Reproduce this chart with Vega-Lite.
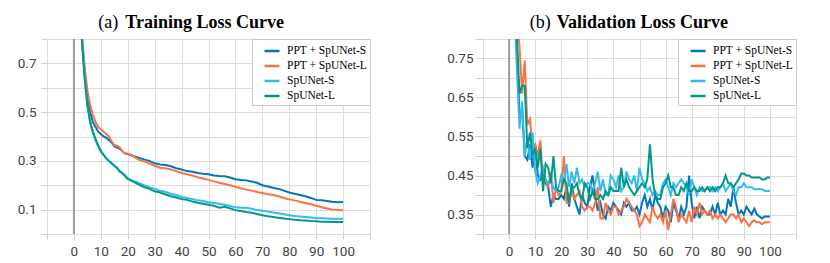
{
  "$schema": "https://vega.github.io/schema/vega-lite/v6.json",
  "padding": {"left": 17, "top": 14, "right": 0, "bottom": 0},
  "background": "white",
  "spacing": 75,
  "config": {
    "view": {"stroke": null},
    "axis": {"gridColor": "#dcdcdc", "gridWidth": 1, "tickColor": "#cfcfcf", "domain": false, "labelFont": "Roboto", "labelFontSize": 13.5, "labelColor": "#444", "title": null},
    "legend": {"orient": "top-right", "offset": 0, "title": null, "symbolType": "stroke", "symbolSize": 225, "symbolStrokeWidth": 2.5, "labelFont": "Liberation Serif", "labelFontSize": 11.5, "labelColor": "#000", "strokeColor": "#c8c8c8", "fillColor": "white", "padding": 3, "rowPadding": 0, "labelOffset": 6, "symbolOffset": 8}
  },
  "datasets": {
    "train": [
      {"e":1,"PPT + SpUNet-S":1.4,"PPT + SpUNet-L":1.4,"SpUNet-S":1.4,"SpUNet-L":1.4},
      {"e":2,"PPT + SpUNet-S":1.0,"PPT + SpUNet-L":1.0,"SpUNet-S":1.0,"SpUNet-L":1.0},
      {"e":3,"PPT + SpUNet-S":0.8,"PPT + SpUNet-L":0.82,"SpUNet-S":0.79,"SpUNet-L":0.79},
      {"e":4,"PPT + SpUNet-S":0.66,"PPT + SpUNet-L":0.68,"SpUNet-S":0.64,"SpUNet-L":0.64},
      {"e":5,"PPT + SpUNet-S":0.56,"PPT + SpUNet-L":0.59,"SpUNet-S":0.53,"SpUNet-L":0.53},
      {"e":6,"PPT + SpUNet-S":0.5,"PPT + SpUNet-L":0.53,"SpUNet-S":0.46,"SpUNet-L":0.46},
      {"e":7,"PPT + SpUNet-S":0.46,"PPT + SpUNet-L":0.49,"SpUNet-S":0.42,"SpUNet-L":0.42},
      {"e":8,"PPT + SpUNet-S":0.44,"PPT + SpUNet-L":0.46,"SpUNet-S":0.385,"SpUNet-L":0.39},
      {"e":9,"PPT + SpUNet-S":0.42,"PPT + SpUNet-L":0.44,"SpUNet-S":0.36,"SpUNet-L":0.365},
      {"e":10,"PPT + SpUNet-S":0.41,"PPT + SpUNet-L":0.43,"SpUNet-S":0.34,"SpUNet-L":0.34},
      {"e":11,"PPT + SpUNet-S":0.4,"PPT + SpUNet-L":0.42,"SpUNet-S":0.325,"SpUNet-L":0.325},
      {"e":12,"PPT + SpUNet-S":0.395,"PPT + SpUNet-L":0.41,"SpUNet-S":0.31,"SpUNet-L":0.31},
      {"e":13,"PPT + SpUNet-S":0.385,"PPT + SpUNet-L":0.4,"SpUNet-S":0.3,"SpUNet-L":0.3},
      {"e":14,"PPT + SpUNet-S":0.375,"PPT + SpUNet-L":0.38,"SpUNet-S":0.29,"SpUNet-L":0.29},
      {"e":15,"PPT + SpUNet-S":0.36,"PPT + SpUNet-L":0.365,"SpUNet-S":0.28,"SpUNet-L":0.28},
      {"e":16,"PPT + SpUNet-S":0.355,"PPT + SpUNet-L":0.362,"SpUNet-S":0.27,"SpUNet-L":0.272},
      {"e":17,"PPT + SpUNet-S":0.35,"PPT + SpUNet-L":0.355,"SpUNet-S":0.255,"SpUNet-L":0.258},
      {"e":18,"PPT + SpUNet-S":0.34,"PPT + SpUNet-L":0.34,"SpUNet-S":0.25,"SpUNet-L":0.25},
      {"e":19,"PPT + SpUNet-S":0.33,"PPT + SpUNet-L":0.33,"SpUNet-S":0.24,"SpUNet-L":0.238},
      {"e":20,"PPT + SpUNet-S":0.328,"PPT + SpUNet-L":0.33,"SpUNet-S":0.228,"SpUNet-L":0.226},
      {"e":22,"PPT + SpUNet-S":0.32,"PPT + SpUNet-L":0.32,"SpUNet-S":0.218,"SpUNet-L":0.215},
      {"e":24,"PPT + SpUNet-S":0.313,"PPT + SpUNet-L":0.305,"SpUNet-S":0.21,"SpUNet-L":0.204},
      {"e":26,"PPT + SpUNet-S":0.306,"PPT + SpUNet-L":0.298,"SpUNet-S":0.2,"SpUNet-L":0.193},
      {"e":28,"PPT + SpUNet-S":0.3,"PPT + SpUNet-L":0.29,"SpUNet-S":0.192,"SpUNet-L":0.185},
      {"e":30,"PPT + SpUNet-S":0.29,"PPT + SpUNet-L":0.28,"SpUNet-S":0.185,"SpUNet-L":0.175},
      {"e":32,"PPT + SpUNet-S":0.285,"PPT + SpUNet-L":0.272,"SpUNet-S":0.178,"SpUNet-L":0.17},
      {"e":34,"PPT + SpUNet-S":0.283,"PPT + SpUNet-L":0.27,"SpUNet-S":0.172,"SpUNet-L":0.162},
      {"e":36,"PPT + SpUNet-S":0.278,"PPT + SpUNet-L":0.265,"SpUNet-S":0.165,"SpUNet-L":0.155},
      {"e":38,"PPT + SpUNet-S":0.27,"PPT + SpUNet-L":0.258,"SpUNet-S":0.16,"SpUNet-L":0.15},
      {"e":40,"PPT + SpUNet-S":0.265,"PPT + SpUNet-L":0.25,"SpUNet-S":0.152,"SpUNet-L":0.143},
      {"e":42,"PPT + SpUNet-S":0.258,"PPT + SpUNet-L":0.245,"SpUNet-S":0.148,"SpUNet-L":0.14},
      {"e":44,"PPT + SpUNet-S":0.255,"PPT + SpUNet-L":0.24,"SpUNet-S":0.143,"SpUNet-L":0.133},
      {"e":46,"PPT + SpUNet-S":0.25,"PPT + SpUNet-L":0.233,"SpUNet-S":0.138,"SpUNet-L":0.128},
      {"e":48,"PPT + SpUNet-S":0.247,"PPT + SpUNet-L":0.228,"SpUNet-S":0.135,"SpUNet-L":0.124},
      {"e":50,"PPT + SpUNet-S":0.245,"PPT + SpUNet-L":0.222,"SpUNet-S":0.13,"SpUNet-L":0.12},
      {"e":52,"PPT + SpUNet-S":0.24,"PPT + SpUNet-L":0.216,"SpUNet-S":0.127,"SpUNet-L":0.116},
      {"e":54,"PPT + SpUNet-S":0.238,"PPT + SpUNet-L":0.21,"SpUNet-S":0.124,"SpUNet-L":0.108},
      {"e":56,"PPT + SpUNet-S":0.237,"PPT + SpUNet-L":0.205,"SpUNet-S":0.12,"SpUNet-L":0.112},
      {"e":58,"PPT + SpUNet-S":0.232,"PPT + SpUNet-L":0.2,"SpUNet-S":0.115,"SpUNet-L":0.105},
      {"e":60,"PPT + SpUNet-S":0.225,"PPT + SpUNet-L":0.194,"SpUNet-S":0.11,"SpUNet-L":0.098},
      {"e":62,"PPT + SpUNet-S":0.222,"PPT + SpUNet-L":0.188,"SpUNet-S":0.108,"SpUNet-L":0.094},
      {"e":64,"PPT + SpUNet-S":0.22,"PPT + SpUNet-L":0.182,"SpUNet-S":0.108,"SpUNet-L":0.09},
      {"e":66,"PPT + SpUNet-S":0.215,"PPT + SpUNet-L":0.178,"SpUNet-S":0.104,"SpUNet-L":0.087},
      {"e":68,"PPT + SpUNet-S":0.21,"PPT + SpUNet-L":0.172,"SpUNet-S":0.098,"SpUNet-L":0.082},
      {"e":70,"PPT + SpUNet-S":0.2,"PPT + SpUNet-L":0.168,"SpUNet-S":0.095,"SpUNet-L":0.077},
      {"e":72,"PPT + SpUNet-S":0.195,"PPT + SpUNet-L":0.163,"SpUNet-S":0.092,"SpUNet-L":0.073},
      {"e":74,"PPT + SpUNet-S":0.19,"PPT + SpUNet-L":0.16,"SpUNet-S":0.088,"SpUNet-L":0.07},
      {"e":76,"PPT + SpUNet-S":0.185,"PPT + SpUNet-L":0.155,"SpUNet-S":0.085,"SpUNet-L":0.067},
      {"e":78,"PPT + SpUNet-S":0.178,"PPT + SpUNet-L":0.148,"SpUNet-S":0.081,"SpUNet-L":0.064},
      {"e":80,"PPT + SpUNet-S":0.17,"PPT + SpUNet-L":0.142,"SpUNet-S":0.077,"SpUNet-L":0.061},
      {"e":82,"PPT + SpUNet-S":0.165,"PPT + SpUNet-L":0.138,"SpUNet-S":0.074,"SpUNet-L":0.058},
      {"e":84,"PPT + SpUNet-S":0.16,"PPT + SpUNet-L":0.132,"SpUNet-S":0.072,"SpUNet-L":0.056},
      {"e":86,"PPT + SpUNet-S":0.155,"PPT + SpUNet-L":0.127,"SpUNet-S":0.07,"SpUNet-L":0.055},
      {"e":88,"PPT + SpUNet-S":0.148,"PPT + SpUNet-L":0.122,"SpUNet-S":0.068,"SpUNet-L":0.053},
      {"e":90,"PPT + SpUNet-S":0.14,"PPT + SpUNet-L":0.116,"SpUNet-S":0.066,"SpUNet-L":0.052},
      {"e":92,"PPT + SpUNet-S":0.138,"PPT + SpUNet-L":0.11,"SpUNet-S":0.065,"SpUNet-L":0.05},
      {"e":94,"PPT + SpUNet-S":0.135,"PPT + SpUNet-L":0.105,"SpUNet-S":0.064,"SpUNet-L":0.05},
      {"e":96,"PPT + SpUNet-S":0.132,"PPT + SpUNet-L":0.1,"SpUNet-S":0.063,"SpUNet-L":0.049},
      {"e":98,"PPT + SpUNet-S":0.13,"PPT + SpUNet-L":0.098,"SpUNet-S":0.063,"SpUNet-L":0.049},
      {"e":100,"PPT + SpUNet-S":0.131,"PPT + SpUNet-L":0.097,"SpUNet-S":0.063,"SpUNet-L":0.049}
    ],
    "val": [
      {"e":1,"PPT + SpUNet-S":1.0,"PPT + SpUNet-L":1.0,"SpUNet-S":1.0,"SpUNet-L":1.0},
      {"e":2,"PPT + SpUNet-S":0.9,"PPT + SpUNet-L":0.95,"SpUNet-S":0.9,"SpUNet-L":0.92},
      {"e":3,"PPT + SpUNet-S":0.78,"PPT + SpUNet-L":0.85,"SpUNet-S":0.72,"SpUNet-L":0.8},
      {"e":4,"PPT + SpUNet-S":0.6,"PPT + SpUNet-L":0.78,"SpUNet-S":0.57,"SpUNet-L":0.66},
      {"e":5,"PPT + SpUNet-S":0.62,"PPT + SpUNet-L":0.66,"SpUNet-S":0.64,"SpUNet-L":0.68},
      {"e":6,"PPT + SpUNet-S":0.5,"PPT + SpUNet-L":0.745,"SpUNet-S":0.5,"SpUNet-L":0.68},
      {"e":7,"PPT + SpUNet-S":0.49,"PPT + SpUNet-L":0.58,"SpUNet-S":0.55,"SpUNet-L":0.52},
      {"e":8,"PPT + SpUNet-S":0.53,"PPT + SpUNet-L":0.595,"SpUNet-S":0.49,"SpUNet-L":0.56},
      {"e":9,"PPT + SpUNet-S":0.47,"PPT + SpUNet-L":0.52,"SpUNet-S":0.56,"SpUNet-L":0.5},
      {"e":10,"PPT + SpUNet-S":0.53,"PPT + SpUNet-L":0.53,"SpUNet-S":0.46,"SpUNet-L":0.52},
      {"e":11,"PPT + SpUNet-S":0.45,"PPT + SpUNet-L":0.5,"SpUNet-S":0.43,"SpUNet-L":0.47},
      {"e":12,"PPT + SpUNet-S":0.44,"PPT + SpUNet-L":0.54,"SpUNet-S":0.45,"SpUNet-L":0.52},
      {"e":13,"PPT + SpUNet-S":0.46,"PPT + SpUNet-L":0.43,"SpUNet-S":0.47,"SpUNet-L":0.41},
      {"e":14,"PPT + SpUNet-S":0.43,"PPT + SpUNet-L":0.44,"SpUNet-S":0.44,"SpUNet-L":0.48},
      {"e":15,"PPT + SpUNet-S":0.42,"PPT + SpUNet-L":0.42,"SpUNet-S":0.43,"SpUNet-L":0.47},
      {"e":16,"PPT + SpUNet-S":0.37,"PPT + SpUNet-L":0.46,"SpUNet-S":0.44,"SpUNet-L":0.43},
      {"e":17,"PPT + SpUNet-S":0.4,"PPT + SpUNet-L":0.38,"SpUNet-S":0.42,"SpUNet-L":0.5},
      {"e":18,"PPT + SpUNet-S":0.39,"PPT + SpUNet-L":0.42,"SpUNet-S":0.41,"SpUNet-L":0.42},
      {"e":19,"PPT + SpUNet-S":0.39,"PPT + SpUNet-L":0.4,"SpUNet-S":0.42,"SpUNet-L":0.41},
      {"e":20,"PPT + SpUNet-S":0.4,"PPT + SpUNet-L":0.41,"SpUNet-S":0.45,"SpUNet-L":0.41},
      {"e":21,"PPT + SpUNet-S":0.39,"PPT + SpUNet-L":0.5,"SpUNet-S":0.43,"SpUNet-L":0.44},
      {"e":22,"PPT + SpUNet-S":0.42,"PPT + SpUNet-L":0.38,"SpUNet-S":0.48,"SpUNet-L":0.43},
      {"e":23,"PPT + SpUNet-S":0.37,"PPT + SpUNet-L":0.38,"SpUNet-S":0.42,"SpUNet-L":0.38},
      {"e":24,"PPT + SpUNet-S":0.43,"PPT + SpUNet-L":0.41,"SpUNet-S":0.46,"SpUNet-L":0.42},
      {"e":25,"PPT + SpUNet-S":0.39,"PPT + SpUNet-L":0.39,"SpUNet-S":0.43,"SpUNet-L":0.42},
      {"e":26,"PPT + SpUNet-S":0.37,"PPT + SpUNet-L":0.4,"SpUNet-S":0.47,"SpUNet-L":0.43},
      {"e":27,"PPT + SpUNet-S":0.35,"PPT + SpUNet-L":0.41,"SpUNet-S":0.43,"SpUNet-L":0.4},
      {"e":28,"PPT + SpUNet-S":0.4,"PPT + SpUNet-L":0.37,"SpUNet-S":0.44,"SpUNet-L":0.39},
      {"e":29,"PPT + SpUNet-S":0.38,"PPT + SpUNet-L":0.36,"SpUNet-S":0.42,"SpUNet-L":0.43},
      {"e":30,"PPT + SpUNet-S":0.37,"PPT + SpUNet-L":0.37,"SpUNet-S":0.43,"SpUNet-L":0.42},
      {"e":31,"PPT + SpUNet-S":0.42,"PPT + SpUNet-L":0.37,"SpUNet-S":0.43,"SpUNet-L":0.39},
      {"e":32,"PPT + SpUNet-S":0.45,"PPT + SpUNet-L":0.36,"SpUNet-S":0.41,"SpUNet-L":0.41},
      {"e":33,"PPT + SpUNet-S":0.4,"PPT + SpUNet-L":0.38,"SpUNet-S":0.43,"SpUNet-L":0.39},
      {"e":34,"PPT + SpUNet-S":0.36,"PPT + SpUNet-L":0.42,"SpUNet-S":0.46,"SpUNet-L":0.39},
      {"e":35,"PPT + SpUNet-S":0.38,"PPT + SpUNet-L":0.34,"SpUNet-S":0.41,"SpUNet-L":0.4},
      {"e":36,"PPT + SpUNet-S":0.35,"PPT + SpUNet-L":0.34,"SpUNet-S":0.44,"SpUNet-L":0.39},
      {"e":37,"PPT + SpUNet-S":0.34,"PPT + SpUNet-L":0.38,"SpUNet-S":0.4,"SpUNet-L":0.41},
      {"e":38,"PPT + SpUNet-S":0.37,"PPT + SpUNet-L":0.36,"SpUNet-S":0.4,"SpUNet-L":0.4},
      {"e":39,"PPT + SpUNet-S":0.36,"PPT + SpUNet-L":0.35,"SpUNet-S":0.45,"SpUNet-L":0.42},
      {"e":40,"PPT + SpUNet-S":0.38,"PPT + SpUNet-L":0.37,"SpUNet-S":0.44,"SpUNet-L":0.41},
      {"e":41,"PPT + SpUNet-S":0.37,"PPT + SpUNet-L":0.37,"SpUNet-S":0.42,"SpUNet-L":0.41},
      {"e":42,"PPT + SpUNet-S":0.36,"PPT + SpUNet-L":0.35,"SpUNet-S":0.45,"SpUNet-L":0.41},
      {"e":43,"PPT + SpUNet-S":0.35,"PPT + SpUNet-L":0.36,"SpUNet-S":0.41,"SpUNet-L":0.47},
      {"e":44,"PPT + SpUNet-S":0.38,"PPT + SpUNet-L":0.37,"SpUNet-S":0.42,"SpUNet-L":0.42},
      {"e":45,"PPT + SpUNet-S":0.37,"PPT + SpUNet-L":0.39,"SpUNet-S":0.46,"SpUNet-L":0.44},
      {"e":46,"PPT + SpUNet-S":0.38,"PPT + SpUNet-L":0.38,"SpUNet-S":0.44,"SpUNet-L":0.42},
      {"e":47,"PPT + SpUNet-S":0.36,"PPT + SpUNet-L":0.37,"SpUNet-S":0.43,"SpUNet-L":0.41},
      {"e":48,"PPT + SpUNet-S":0.36,"PPT + SpUNet-L":0.36,"SpUNet-S":0.45,"SpUNet-L":0.4},
      {"e":49,"PPT + SpUNet-S":0.37,"PPT + SpUNet-L":0.35,"SpUNet-S":0.41,"SpUNet-L":0.41},
      {"e":50,"PPT + SpUNet-S":0.35,"PPT + SpUNet-L":0.32,"SpUNet-S":0.47,"SpUNet-L":0.42},
      {"e":51,"PPT + SpUNet-S":0.38,"PPT + SpUNet-L":0.33,"SpUNet-S":0.44,"SpUNet-L":0.43},
      {"e":52,"PPT + SpUNet-S":0.4,"PPT + SpUNet-L":0.35,"SpUNet-S":0.43,"SpUNet-L":0.42},
      {"e":53,"PPT + SpUNet-S":0.37,"PPT + SpUNet-L":0.34,"SpUNet-S":0.41,"SpUNet-L":0.44},
      {"e":54,"PPT + SpUNet-S":0.39,"PPT + SpUNet-L":0.33,"SpUNet-S":0.42,"SpUNet-L":0.53},
      {"e":55,"PPT + SpUNet-S":0.36,"PPT + SpUNet-L":0.37,"SpUNet-S":0.4,"SpUNet-L":0.44},
      {"e":56,"PPT + SpUNet-S":0.4,"PPT + SpUNet-L":0.35,"SpUNet-S":0.41,"SpUNet-L":0.4},
      {"e":57,"PPT + SpUNet-S":0.38,"PPT + SpUNet-L":0.34,"SpUNet-S":0.4,"SpUNet-L":0.39},
      {"e":58,"PPT + SpUNet-S":0.37,"PPT + SpUNet-L":0.35,"SpUNet-S":0.4,"SpUNet-L":0.39},
      {"e":59,"PPT + SpUNet-S":0.34,"PPT + SpUNet-L":0.33,"SpUNet-S":0.43,"SpUNet-L":0.42},
      {"e":60,"PPT + SpUNet-S":0.37,"PPT + SpUNet-L":0.36,"SpUNet-S":0.44,"SpUNet-L":0.43},
      {"e":61,"PPT + SpUNet-S":0.36,"PPT + SpUNet-L":0.31,"SpUNet-S":0.42,"SpUNet-L":0.45},
      {"e":62,"PPT + SpUNet-S":0.33,"PPT + SpUNet-L":0.35,"SpUNet-S":0.4,"SpUNet-L":0.42},
      {"e":63,"PPT + SpUNet-S":0.38,"PPT + SpUNet-L":0.39,"SpUNet-S":0.43,"SpUNet-L":0.42},
      {"e":64,"PPT + SpUNet-S":0.36,"PPT + SpUNet-L":0.37,"SpUNet-S":0.42,"SpUNet-L":0.4},
      {"e":65,"PPT + SpUNet-S":0.34,"PPT + SpUNet-L":0.33,"SpUNet-S":0.43,"SpUNet-L":0.4},
      {"e":66,"PPT + SpUNet-S":0.37,"PPT + SpUNet-L":0.35,"SpUNet-S":0.44,"SpUNet-L":0.42},
      {"e":67,"PPT + SpUNet-S":0.35,"PPT + SpUNet-L":0.34,"SpUNet-S":0.43,"SpUNet-L":0.41},
      {"e":68,"PPT + SpUNet-S":0.37,"PPT + SpUNet-L":0.33,"SpUNet-S":0.42,"SpUNet-L":0.43},
      {"e":69,"PPT + SpUNet-S":0.45,"PPT + SpUNet-L":0.36,"SpUNet-S":0.4,"SpUNet-L":0.41},
      {"e":70,"PPT + SpUNet-S":0.38,"PPT + SpUNet-L":0.33,"SpUNet-S":0.44,"SpUNet-L":0.41},
      {"e":71,"PPT + SpUNet-S":0.34,"PPT + SpUNet-L":0.37,"SpUNet-S":0.42,"SpUNet-L":0.42},
      {"e":72,"PPT + SpUNet-S":0.37,"PPT + SpUNet-L":0.35,"SpUNet-S":0.4,"SpUNet-L":0.41},
      {"e":73,"PPT + SpUNet-S":0.34,"PPT + SpUNet-L":0.38,"SpUNet-S":0.42,"SpUNet-L":0.41},
      {"e":74,"PPT + SpUNet-S":0.37,"PPT + SpUNet-L":0.35,"SpUNet-S":0.41,"SpUNet-L":0.42},
      {"e":75,"PPT + SpUNet-S":0.36,"PPT + SpUNet-L":0.36,"SpUNet-S":0.41,"SpUNet-L":0.41},
      {"e":76,"PPT + SpUNet-S":0.35,"PPT + SpUNet-L":0.35,"SpUNet-S":0.42,"SpUNet-L":0.42},
      {"e":77,"PPT + SpUNet-S":0.35,"PPT + SpUNet-L":0.36,"SpUNet-S":0.42,"SpUNet-L":0.41},
      {"e":78,"PPT + SpUNet-S":0.37,"PPT + SpUNet-L":0.34,"SpUNet-S":0.41,"SpUNet-L":0.42},
      {"e":79,"PPT + SpUNet-S":0.35,"PPT + SpUNet-L":0.35,"SpUNet-S":0.42,"SpUNet-L":0.41},
      {"e":80,"PPT + SpUNet-S":0.38,"PPT + SpUNet-L":0.34,"SpUNet-S":0.41,"SpUNet-L":0.42},
      {"e":81,"PPT + SpUNet-S":0.35,"PPT + SpUNet-L":0.35,"SpUNet-S":0.42,"SpUNet-L":0.42},
      {"e":82,"PPT + SpUNet-S":0.36,"PPT + SpUNet-L":0.34,"SpUNet-S":0.43,"SpUNet-L":0.43},
      {"e":83,"PPT + SpUNet-S":0.35,"PPT + SpUNet-L":0.33,"SpUNet-S":0.41,"SpUNet-L":0.45},
      {"e":84,"PPT + SpUNet-S":0.39,"PPT + SpUNet-L":0.34,"SpUNet-S":0.42,"SpUNet-L":0.43},
      {"e":85,"PPT + SpUNet-S":0.37,"PPT + SpUNet-L":0.35,"SpUNet-S":0.43,"SpUNet-L":0.43},
      {"e":86,"PPT + SpUNet-S":0.42,"PPT + SpUNet-L":0.35,"SpUNet-S":0.41,"SpUNet-L":0.42},
      {"e":87,"PPT + SpUNet-S":0.38,"PPT + SpUNet-L":0.34,"SpUNet-S":0.4,"SpUNet-L":0.43},
      {"e":88,"PPT + SpUNet-S":0.35,"PPT + SpUNet-L":0.35,"SpUNet-S":0.42,"SpUNet-L":0.44},
      {"e":89,"PPT + SpUNet-S":0.36,"PPT + SpUNet-L":0.33,"SpUNet-S":0.42,"SpUNet-L":0.455},
      {"e":90,"PPT + SpUNet-S":0.35,"PPT + SpUNet-L":0.34,"SpUNet-S":0.43,"SpUNet-L":0.455},
      {"e":91,"PPT + SpUNet-S":0.37,"PPT + SpUNet-L":0.33,"SpUNet-S":0.42,"SpUNet-L":0.45},
      {"e":92,"PPT + SpUNet-S":0.36,"PPT + SpUNet-L":0.32,"SpUNet-S":0.42,"SpUNet-L":0.45},
      {"e":93,"PPT + SpUNet-S":0.35,"PPT + SpUNet-L":0.33,"SpUNet-S":0.42,"SpUNet-L":0.445},
      {"e":94,"PPT + SpUNet-S":0.365,"PPT + SpUNet-L":0.335,"SpUNet-S":0.415,"SpUNet-L":0.445},
      {"e":95,"PPT + SpUNet-S":0.35,"PPT + SpUNet-L":0.33,"SpUNet-S":0.415,"SpUNet-L":0.445},
      {"e":96,"PPT + SpUNet-S":0.345,"PPT + SpUNet-L":0.33,"SpUNet-S":0.415,"SpUNet-L":0.445},
      {"e":97,"PPT + SpUNet-S":0.34,"PPT + SpUNet-L":0.325,"SpUNet-S":0.415,"SpUNet-L":0.44},
      {"e":98,"PPT + SpUNet-S":0.345,"PPT + SpUNet-L":0.33,"SpUNet-S":0.41,"SpUNet-L":0.44},
      {"e":99,"PPT + SpUNet-S":0.345,"PPT + SpUNet-L":0.33,"SpUNet-S":0.41,"SpUNet-L":0.445},
      {"e":100,"PPT + SpUNet-S":0.345,"PPT + SpUNet-L":0.33,"SpUNet-S":0.41,"SpUNet-L":0.445}
    ]
  },
  "hconcat": [
    {
      "width": 323,
      "height": 195,
      "title": {"text": "(a)", "subtitle": "\u200b\u00a0\u00a0\u00a0\u00a0\u00a0\u00a0Training Loss Curve", "font": "Liberation Serif", "fontSize": 18, "fontWeight": "normal", "color": "#000", "subtitleFont": "Liberation Serif", "subtitleFontSize": 18, "subtitleFontWeight": "bold", "subtitleColor": "#000", "subtitlePadding": -18, "anchor": "start", "frame": "bounds", "align": "left", "dx": 81, "offset": 6},
      "layer": [
        {
          "data": {"values": [{"x0": 0}]},
          "mark": {"type": "rule", "color": "#9e9e9e", "strokeWidth": 2},
          "encoding": {"x": {"field": "x0", "type": "quantitative"}}
        },
        {
          "data": {"name": "train"},
          "transform": [{"fold": ["PPT + SpUNet-S", "PPT + SpUNet-L", "SpUNet-S", "SpUNet-L"], "as": ["series", "loss"]}],
          "mark": {"type": "line", "clip": true, "strokeWidth": 2},
          "encoding": {
            "x": {"field": "e", "type": "quantitative"},
            "y": {"field": "loss", "type": "quantitative", "scale": {"domain": [0, 0.8], "nice": false, "zero": false},
              "axis": {"values": [0, 0.1, 0.2, 0.3, 0.4, 0.5, 0.6, 0.7, 0.8], "format": ".1f", "labelExpr": "indexof(['0.1','0.3','0.5','0.7'], datum.label) >= 0 ? datum.label : ''", "tickSize": 6, "labelPadding": 5}},
            "color": {"field": "series", "type": "nominal", "scale": {"domain": ["PPT + SpUNet-S", "PPT + SpUNet-L", "SpUNet-S", "SpUNet-L"], "range": ["#0077bb", "#ff7043", "#33bbee", "#009988"]}}
          }
        }
      ],
      "encoding": {
        "x": {"field": "x0", "type": "quantitative", "scale": {"domain": [-10, 110], "nice": false, "zero": false},
          "axis": {"values": [-10, 0, 10, 20, 30, 40, 50, 60, 70, 80, 90, 100, 110], "labelExpr": "datum.value < 0 || datum.value > 100 ? '' : datum.label", "tickSize": 5, "labelPadding": 5}}
      }
    },
    {
      "width": 313,
      "height": 195,
      "title": {"text": "(b)", "subtitle": "\u200b\u00a0\u00a0\u00a0\u00a0\u00a0\u00a0Validation Loss Curve", "font": "Liberation Serif", "fontSize": 18, "fontWeight": "normal", "color": "#000", "subtitleFont": "Liberation Serif", "subtitleFontSize": 18, "subtitleFontWeight": "bold", "subtitleColor": "#000", "subtitlePadding": -18, "anchor": "start", "frame": "bounds", "align": "left", "dx": 83, "offset": 6},
      "layer": [
        {
          "data": {"values": [{"x0": 0}]},
          "mark": {"type": "rule", "color": "#9e9e9e", "strokeWidth": 2},
          "encoding": {"x": {"field": "x0", "type": "quantitative"}}
        },
        {
          "data": {"name": "val"},
          "transform": [{"fold": ["PPT + SpUNet-S", "PPT + SpUNet-L", "SpUNet-S", "SpUNet-L"], "as": ["series", "loss"]}],
          "mark": {"type": "line", "clip": true, "strokeWidth": 2},
          "encoding": {
            "x": {"field": "e", "type": "quantitative"},
            "y": {"field": "loss", "type": "quantitative", "scale": {"domain": [0.3, 0.8], "nice": false, "zero": false},
              "axis": {"values": [0.3, 0.35, 0.4, 0.45, 0.5, 0.55, 0.6, 0.65, 0.7, 0.75, 0.8], "format": ".2f", "labelExpr": "indexof(['0.35','0.45','0.55','0.65','0.75'], datum.label) >= 0 ? datum.label : ''", "tickSize": 8, "labelPadding": 2}},
            "color": {"field": "series", "type": "nominal", "scale": {"domain": ["PPT + SpUNet-S", "PPT + SpUNet-L", "SpUNet-S", "SpUNet-L"], "range": ["#0077bb", "#ff7043", "#33bbee", "#009988"]}}
          }
        }
      ],
      "encoding": {
        "x": {"field": "x0", "type": "quantitative", "scale": {"domain": [-10, 110], "nice": false, "zero": false},
          "axis": {"values": [-10, 0, 10, 20, 30, 40, 50, 60, 70, 80, 90, 100, 110], "labelExpr": "datum.value < 0 || datum.value > 100 ? '' : datum.label", "tickSize": 5, "labelPadding": 5}}
      }
    }
  ],
  "resolve": {"scale": {"y": "independent", "x": "independent"}, "legend": {"color": "independent"}}
}
